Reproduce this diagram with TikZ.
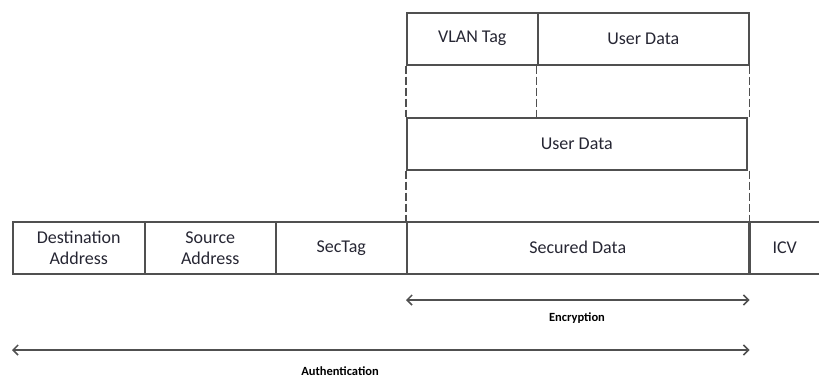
\documentclass[tikz,border=0pt]{standalone}
\usepackage{fontspec}
\setmainfont{Carlito}
\usetikzlibrary{arrows.meta}
\definecolor{frameline}{HTML}{505050}
\definecolor{labeltext}{HTML}{262633}
\tikzset{
  field/.style={draw=frameline, line width=1.5pt, inner sep=0pt, anchor=north west,
    minimum height=52pt, text=labeltext, font=\fontsize{18}{21}\selectfont, align=center},
  gap/.style={draw=frameline, line width=1.5pt, dash pattern=on 8pt off 3pt},
  span/.style={draw=frameline, line width=1.5pt, {Straight Barb[length=5pt,width=10pt]}-{Straight Barb[length=5pt,width=10pt]}},
  spanlabel/.style={text=black, font=\bfseries\fontsize{12.5}{14}\selectfont}
}
\begin{document}
\begin{tikzpicture}[x=1pt,y=-1pt]
\useasboundingbox (0,0) rectangle (819,378);

% inner frame: VLAN tag and user data
\node[field, minimum width=131pt] (vlan) at (406,12) {VLAN Tag};
\node[field, minimum width=211pt] (ud1) at (537,12) {User Data};

% user data after tag removal
\node[field, minimum width=340pt] (ud2) at (406,117) {User Data};

% MACsec frame
\node[field, minimum width=132pt] (dst) at (12,221) {Destination\\Address};
\node[field, minimum width=131pt] (src) at (144,221) {Source\\Address};
\node[field, minimum width=131pt] (sectag) at (275,221) {SecTag};
\node[field, minimum width=342pt] (sec) at (406,221) {Secured Data};
\node[field, minimum width=72pt] (icv) at (748,221) {ICV};
\draw[frameline, line width=2.4pt] (sec.north east) -- (sec.south east);

% dashed continuation between the levels
\draw[gap] (vlan.south west) -- (ud2.north west);
\draw[gap] ([xshift=-2pt]vlan.south east) -- ([xshift=-2pt]vlan.south east |- ud2.north);
\draw[gap] (ud1.south east) -- (ud1.south east |- ud2.north);
\draw[gap] (ud2.south west) -- (sec.north west);
\draw[gap] ([xshift=2pt]ud2.south east) -- (sec.north east);

% coverage arrows
\coordinate (encL) at (sec.south west |- 0,300);
\coordinate (encR) at (sec.south east |- 0,300);
\coordinate (autL) at (dst.south west |- 0,350);
\coordinate (autR) at (sec.south east |- 0,350);
\draw[span] (encL) -- (encR);
\draw[span] (autL) -- (autR);
\node[spanlabel] (enc) at (577,318) {Encryption};
\node[spanlabel] (aut) at (340,371) {Authentication};
\end{tikzpicture}
\end{document}
